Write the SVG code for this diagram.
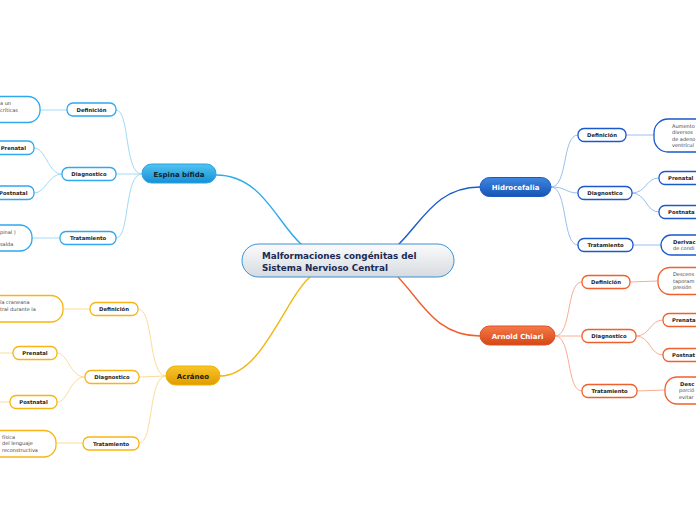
<svg xmlns="http://www.w3.org/2000/svg" width="696" height="520" viewBox="0 0 696 520">
<defs>
<linearGradient id="gC" x1="0" y1="0" x2="0" y2="1"><stop offset="0" stop-color="#fbfbfc"/><stop offset="1" stop-color="#d6dbe0"/></linearGradient>
<linearGradient id="gE" x1="0" y1="0" x2="0" y2="1"><stop offset="0" stop-color="#52c4f2"/><stop offset="1" stop-color="#1590d4"/></linearGradient>
<linearGradient id="gA" x1="0" y1="0" x2="0" y2="1"><stop offset="0" stop-color="#f8c62a"/><stop offset="1" stop-color="#e09c00"/></linearGradient>
<linearGradient id="gH" x1="0" y1="0" x2="0" y2="1"><stop offset="0" stop-color="#3f86e2"/><stop offset="1" stop-color="#1654b4"/></linearGradient>
<linearGradient id="gR" x1="0" y1="0" x2="0" y2="1"><stop offset="0" stop-color="#f57a4a"/><stop offset="1" stop-color="#d64616"/></linearGradient>
<style>
text{font-family:"DejaVu Sans",Verdana,sans-serif}
.lbl{font-size:5.3px;font-weight:bold;fill:#1e1e1e;text-anchor:middle}
.leaf{font-size:5px;fill:#444}
.leafb{font-size:5.3px;font-weight:bold;fill:#1e1e1e}
.main{font-size:7px;font-weight:bold;text-anchor:middle}
.cE{fill:#fff;stroke:#2ea8ee;stroke-width:1.3}
.cA{fill:#fff;stroke:#f7b514;stroke-width:1.3}
.cH{fill:#fff;stroke:#1a58cc;stroke-width:1.3}
.cR{fill:#fff;stroke:#f0602e;stroke-width:1.3}
.lE{fill:none;stroke:#a4d9f5;stroke-width:1}
.lA{fill:none;stroke:#fbdc98;stroke-width:1}
.lH{fill:none;stroke:#9bbfee;stroke-width:1}
.lR{fill:none;stroke:#f8ae94;stroke-width:1}
</style>
</defs>
<g id="connectors">
<path d="M216,175 C262,175 276,222 302,245" fill="none" stroke="#2eaaea" stroke-width="1.4"/>
<path d="M220,376 C262,376 284,300 310,277" fill="none" stroke="#f2b610" stroke-width="1.4"/>
<path d="M480,187 C436,187 422,222 398,245" fill="none" stroke="#1a5cc8" stroke-width="1.4"/>
<path d="M480,336 C436,336 422,302 398,277" fill="none" stroke="#f0602e" stroke-width="1.4"/>
<path class="lE" d="M142,174 C124,174 130,110 116,110"/>
<path class="lE" d="M142,174 L116,174"/>
<path class="lE" d="M142,174 C124,174 130,238 116,238"/>
<path class="lE" d="M67,110 L40,110"/>
<path class="lE" d="M62,174 C48,174 46,148 34,148"/>
<path class="lE" d="M62,174 C48,174 46,193 34,193"/>
<path class="lE" d="M60,238 L32,238"/>
<path class="lA" d="M166,376 C148,376 154,309 138,309"/>
<path class="lA" d="M166,376 L139,377"/>
<path class="lA" d="M166,376 C148,376 154,443 139,443"/>
<path class="lA" d="M90,309 L63,309"/>
<path class="lA" d="M85,377 C70,377 68,353 57,353"/>
<path class="lA" d="M85,377 C70,377 68,402 57,402"/>
<path class="lA" d="M83,443 L56,443"/>
<path class="lA" d="M13,353 L0,353"/>
<path class="lA" d="M10,402 L0,402"/>
<path class="lH" d="M551,187 C568,187 562,135 578,135"/>
<path class="lH" d="M551,187 C566,187 566,193 578,193"/>
<path class="lH" d="M551,187 C568,187 562,245 578,245"/>
<path class="lH" d="M626,135 L654,135"/>
<path class="lH" d="M632,193 C646,193 646,178 659,178"/>
<path class="lH" d="M632,193 C646,193 646,212 659,212"/>
<path class="lH" d="M633,245 L661,245"/>
<path class="lR" d="M555,336 C572,336 566,282 582,282"/>
<path class="lR" d="M555,336 L582,336"/>
<path class="lR" d="M555,336 C572,336 566,391 582,391"/>
<path class="lR" d="M630,282 L658,281"/>
<path class="lR" d="M636,336 C650,336 650,320 663,320"/>
<path class="lR" d="M636,336 C650,336 650,355 663,355"/>
<path class="lR" d="M637,391 L665,390"/>
</g>
<g id="central">
<rect x="242" y="244" width="212" height="33" rx="16.5" fill="url(#gC)" stroke="#3a90d2" stroke-width="1"/>
<text x="262" y="258.5" font-size="8.8" font-weight="bold" fill="#1b2a52">Malformaciones congénitas del</text>
<text x="262" y="270.5" font-size="8.8" font-weight="bold" fill="#1b2a52">Sistema Nervioso Central</text>
</g>
<g id="espina">
<rect x="142" y="164" width="74" height="19" rx="9.5" fill="url(#gE)" stroke="#2aa2e2" stroke-width="1"/>
<text class="main" x="179" y="177" fill="#12202e">Espina bífida</text>
</g>
<g id="e-def"><rect class="cE" x="67" y="103" width="49" height="13" rx="6"/><text class="lbl" x="91.5" y="111.8">Definición</text></g>
<g id="e-diag"><rect class="cE" x="62" y="167.5" width="54" height="13" rx="6"/><text class="lbl" x="89" y="176.3">Diagnostico</text></g>
<g id="e-trat"><rect class="cE" x="60" y="231.5" width="56" height="13" rx="6"/><text class="lbl" x="88" y="240.3">Tratamiento</text></g>
<g id="e-def-leaf"><rect class="cE" x="-60" y="96.5" width="100" height="26" rx="12" stroke-width="1.5"/><text class="leaf" x="0" y="104.5">a un</text><text class="leaf" x="0" y="111.5">críticas</text></g>
<g id="e-pre"><rect class="cE" x="-40" y="141" width="74" height="13.5" rx="6"/><text class="leafb" x="26" y="149.8" text-anchor="end">Prenatal</text></g>
<g id="e-post"><rect class="cE" x="-40" y="186" width="74" height="13.5" rx="6"/><text class="leafb" x="27.5" y="194.8" text-anchor="end" font-size="5.1">Postnatal</text></g>
<g id="e-trat-leaf"><rect class="cE" x="-60" y="225" width="92" height="26" rx="12" stroke-width="1.5"/><text class="leaf" x="0" y="233.5">pinal )</text><text class="leaf" x="0" y="246">salda</text></g>
<g id="acraneo">
<rect x="166" y="366" width="54" height="19" rx="9.5" fill="url(#gA)" stroke="#f0b000" stroke-width="1"/>
<text class="main" x="193" y="379" fill="#1e1a10">Acráneo</text>
</g>
<g id="a-def"><rect class="cA" x="90" y="302.5" width="48" height="13" rx="6"/><text class="lbl" x="114" y="311.3">Definición</text></g>
<g id="a-diag"><rect class="cA" x="85" y="370.5" width="54" height="13" rx="6"/><text class="lbl" x="112" y="379.3">Diagnostico</text></g>
<g id="a-trat"><rect class="cA" x="83" y="437" width="56" height="13" rx="6"/><text class="lbl" x="111" y="445.8">Tratamiento</text></g>
<g id="a-def-leaf"><rect class="cA" x="-60" y="295.5" width="123" height="26.5" rx="12" stroke-width="1.5"/><text class="leaf" x="0" y="303.5">la craneana</text><text class="leaf" x="0" y="310.5">tral durante la</text></g>
<g id="a-pre"><rect class="cA" x="13" y="346.5" width="44" height="13" rx="6"/><text class="lbl" x="35" y="355.3">Prenatal</text></g>
<g id="a-post"><rect class="cA" x="10" y="395.5" width="47" height="13" rx="6"/><text class="lbl" x="33.5" y="404.3">Postnatal</text></g>
<g id="a-trat-leaf"><rect class="cA" x="-60" y="430.5" width="116" height="26.5" rx="12" stroke-width="1.5"/><text class="leaf" x="2" y="438.5">física</text><text class="leaf" x="2" y="445">del lenguaje</text><text class="leaf" x="2" y="451.5">reconstructiva</text></g>
<g id="hidro">
<rect x="480" y="177.5" width="71" height="19" rx="9.5" fill="url(#gH)" stroke="#1a5cc0" stroke-width="1"/>
<text class="main" x="515.5" y="190.3" fill="#fff">Hidrocefalia</text>
</g>
<g id="h-def"><rect class="cH" x="578" y="128.5" width="48" height="13" rx="6"/><text class="lbl" x="602" y="137.3">Definición</text></g>
<g id="h-diag"><rect class="cH" x="578" y="186.5" width="54" height="13" rx="6"/><text class="lbl" x="605" y="195.3">Diagnostico</text></g>
<g id="h-trat"><rect class="cH" x="578" y="238.5" width="55" height="13" rx="6"/><text class="lbl" x="605.5" y="247.3">Tratamiento</text></g>
<g id="h-def-leaf"><rect class="cH" x="654" y="119" width="100" height="33" rx="14" stroke-width="1.5"/><text class="leaf" x="672" y="127.5">Aumento</text><text class="leaf" x="672" y="134">diversos</text><text class="leaf" x="672" y="140.5">de adeno</text><text class="leaf" x="672" y="147">ventrícul</text></g>
<g id="h-pre"><rect class="cH" x="659" y="171.5" width="60" height="13" rx="6"/><text class="leafb" x="668" y="180.3">Prenatal</text></g>
<g id="h-post"><rect class="cH" x="659" y="205.5" width="60" height="13" rx="6"/><text class="leafb" x="668" y="214.3">Postnata</text></g>
<g id="h-trat-leaf"><rect class="cH" x="661" y="235" width="80" height="20" rx="10" stroke-width="1.5"/><text class="leafb" x="673" y="243.5">Derivac</text><text class="leaf" x="673" y="250">de condi</text></g>
<g id="arnold">
<rect x="480" y="326" width="75" height="19" rx="9.5" fill="url(#gR)" stroke="#e0501e" stroke-width="1"/>
<text class="main" x="517.5" y="338.8" fill="#fff">Arnold Chiari</text>
</g>
<g id="r-def"><rect class="cR" x="582" y="275.5" width="48" height="13" rx="6"/><text class="lbl" x="606" y="284.3">Definición</text></g>
<g id="r-diag"><rect class="cR" x="582" y="329.5" width="54" height="13" rx="6"/><text class="lbl" x="609" y="338.3">Diagnostico</text></g>
<g id="r-trat"><rect class="cR" x="582" y="384.5" width="55" height="13" rx="6"/><text class="lbl" x="609.5" y="393.3">Tratamiento</text></g>
<g id="r-def-leaf"><rect class="cR" x="658" y="267.5" width="100" height="27" rx="12" stroke-width="1.5"/><text class="leaf" x="673" y="276">Descens</text><text class="leaf" x="673" y="282.5">taporam</text><text class="leaf" x="673" y="289">presión</text></g>
<g id="r-pre"><rect class="cR" x="663" y="313.5" width="60" height="13" rx="6"/><text class="leafb" x="672" y="322.3">Prenata</text></g>
<g id="r-post"><rect class="cR" x="663" y="348.5" width="60" height="13" rx="6"/><text class="leafb" x="672" y="357.3">Postnat</text></g>
<g id="r-trat-leaf"><rect class="cR" x="665" y="377" width="90" height="27" rx="12" stroke-width="1.5"/><text class="leafb" x="680" y="385.5">Desc</text><text class="leaf" x="679" y="392">porció</text><text class="leaf" x="679" y="398.5">evitar</text></g>
</svg>
